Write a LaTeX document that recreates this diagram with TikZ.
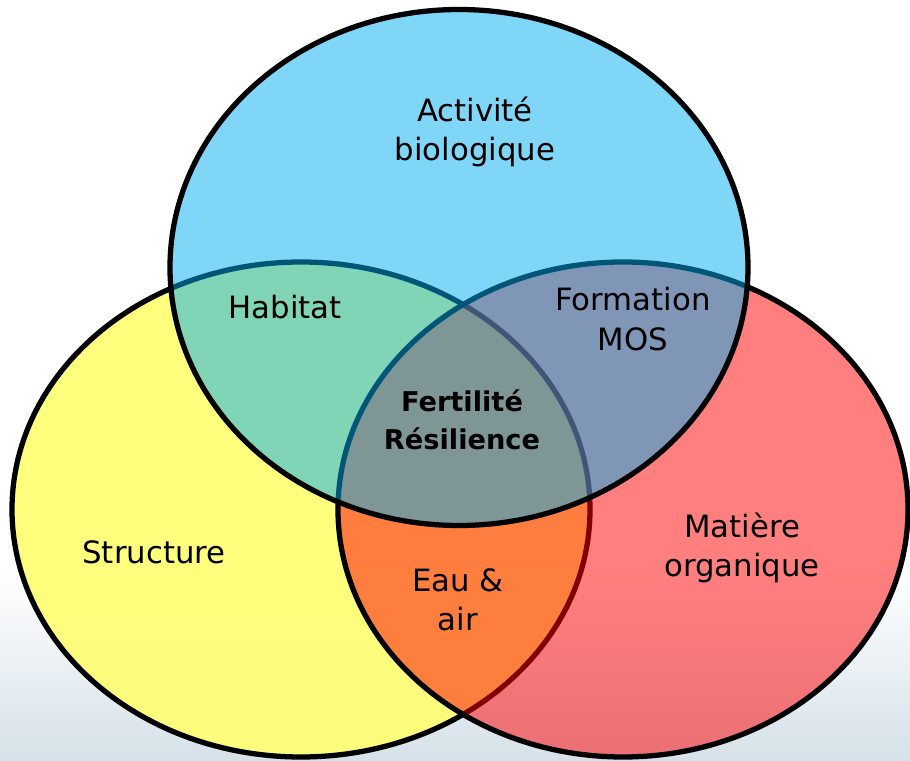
\documentclass[tikz,border=0pt]{standalone}
\usepackage{fontspec}
\setmainfont{DejaVu Sans}
\usepackage{tikz}

\definecolor{soilyellow}{RGB}{255,255,112}
\definecolor{soilred}{RGB}{255,0,0}
\definecolor{soilblue}{RGB}{1,173,239}
\definecolor{hazeblue}{RGB}{214,225,233}

\begin{document}
\begin{tikzpicture}[thick,
		set/.style={draw=black,line width=3pt},
		label node/.style={align=center,font=\fontsize{17.5}{22.5}\selectfont}]

		\useasboundingbox (0,0) rectangle (18.2,-15.22);

		% hazy landscape behind the lower half
		\shade[top color=white,bottom color=hazeblue] (0,-11.4) rectangle (18.2,-15.22);

		% the three sets, drawn bottom to top
		\path[set,fill=soilyellow,fill opacity=0.9] (6.02,-10.19) ellipse [x radius=5.78, y radius=4.95];
		\path[set,fill=soilred,fill opacity=0.5] (12.46,-10.19) ellipse [x radius=5.70, y radius=4.95];
		\path[set,fill=soilblue,fill opacity=0.5] (9.18,-5.35) ellipse [x radius=5.78, y radius=5.16];

		\node[label node] (bio) at (9.5,-2.64) {Activité\\biologique};
		\node[label node] (habitat) at (5.7,-6.14) {Habitat};
		\node[label node] (mos) at (12.66,-6.38) {Formation\\MOS};
		\node[label node,font=\fontsize{15.5}{21.5}\selectfont\bfseries] (fert) at (9.24,-8.4) {Fertilité\\Résilience};
		\node[label node] (struct) at (3.08,-11.04) {Structure};
		\node[label node] (eau) at (9.16,-12.0) {Eau \&\\air};
		\node[label node] (mat) at (14.84,-10.96) {Matière\\organique};
		\end{tikzpicture}
\end{document}
